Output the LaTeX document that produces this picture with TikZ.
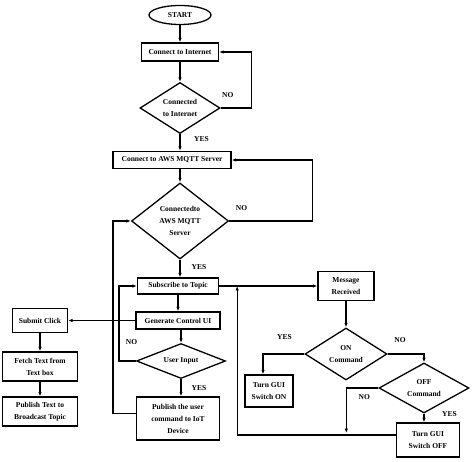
\documentclass[tikz,border=0pt]{standalone}
\usepackage{fontspec}
\setmainfont{Liberation Serif}
\usetikzlibrary{shapes,arrows.meta,positioning}

\begin{document}
\begin{tikzpicture}[x=1pt, y=-1pt, line width=1.3pt, >={Latex[length=4.5pt,width=3.5pt]},
    every node/.style={font=\fontsize{7.5}{12}\selectfont\bfseries},
    process/.style={on grid, draw, rectangle, inner sep=0pt, align=center},
    decision/.style={on grid, draw, diamond, aspect=1.6, inner sep=0pt, align=center},
    lbl/.style={inner sep=1pt}]
    \useasboundingbox (0,0) rectangle (474,462);

    % main column
    \node (start) [on grid, draw, ellipse, inner sep=0pt, minimum width=62pt, minimum height=19pt] at (180,15) {START};
    \node (inet) [process, below=37pt of start, minimum width=77pt, minimum height=18pt] {Connect to Internet};
    \node (dinet) [decision, below=56pt of inet, minimum width=80pt, minimum height=51pt] {Connected\\to Internet};
    \node (aws) [process, below=52pt of dinet, xshift=-8pt, minimum width=118pt, minimum height=17pt] {Connect to AWS MQTT Server};
    \node (dmqtt) [decision, aspect=1.3, below=61pt of aws, xshift=8pt, minimum width=97pt, minimum height=76pt] {Connectedto\\AWS MQTT\\Server};
    \node (sub) [process, below=65pt of dmqtt, xshift=-2pt, minimum width=81pt, minimum height=16pt] {Subscribe to Topic};
    \node (gen) [process, below=34.5pt of sub, minimum width=84pt, minimum height=17pt] {Generate Control UI};
    \node (uin) [decision, aspect=2, below=40.5pt of gen, xshift=3pt, minimum width=89pt, minimum height=35pt] {User Input};
    \node (pub) [process, below=57.5pt of uin, xshift=-3pt, minimum width=83pt, minimum height=43pt] {Publish the user\\command to IoT\\Device};

    % left column
    \node (submit) [process, left=138pt of gen, minimum width=55pt, minimum height=24pt] {Submit Click};
    \node (fetch) [process, below=46pt of submit, minimum width=75pt, minimum height=29pt] {Fetch Text from\\Text box};
    \node (pubtxt) [process, below=45pt of fetch, minimum width=75pt, minimum height=29pt] {Publish Text to\\Broadcast Topic};

    % right side
    \node (msg) [process, right=168pt of sub, minimum width=56pt, minimum height=29pt] {Message\\Received};
    \node (don) [decision, below=68pt of msg, minimum width=82pt, minimum height=52pt] {ON\\Command};
    \node (gon) [process, below left=37pt and 77pt of don, minimum width=48pt, minimum height=32pt] {Turn GUI\\Switch ON};
    \node (doff) [decision, below right=34pt and 78pt of don, minimum width=90pt, minimum height=50pt] {OFF\\Command};
    \node (goff) [process, below=52pt of doff, xshift=4pt, minimum width=63pt, minimum height=34pt] {Turn GUI\\Switch OFF};
    \coordinate (merge) at ([xshift=18pt]sub.east);

    \draw[->] (start) -- (inet);
    \draw[->] (inet) -- (dinet);
    \draw[->] (dinet.east) -- node (no1) [lbl, above=8.5pt, pos=0.23] {NO} ++(31,0) |- (inet.east);
    \draw[->] (dinet.south) -- node (yes1) [lbl, right=12.5pt, pos=0.28] {YES} (dinet.south |- aws.north);
    \draw[->] (dmqtt.north |- aws.south) -- (dmqtt.north);
    \draw[->] (dmqtt.east) -- node (no2) [lbl, above=8.5pt, pos=0.15] {NO} ++(83,0) |- (aws.east);
    \draw[->] (dmqtt.south) -- node (yes2) [lbl, right=10pt, pos=0.42] {YES} (dmqtt.south |- sub.north);
    \draw[->] (sub) -- (gen);
    \draw[->] (uin.north |- gen.south) -- (uin.north);
    \draw[->] (uin.south) -- node (yes3) [lbl, right=9pt, pos=0.5] {YES} (uin.south |- pub.north);
    \draw[->] (uin.west) -- node (no3) [lbl, above=14.5pt, pos=0.25] {NO} ++(-17,0) |- (sub.west);
    \draw[->] ([yshift=5pt]pub.west) -- ++(-23,0) |- (dmqtt.west);

    \draw[->] (gen.west) -- (submit.east);
    \draw[->] (submit) -- (fetch);
    \draw[->] (fetch) -- (pubtxt);

    \draw[->] (sub.east) -- (msg.west);
    \draw[->] (msg) -- (don);
    \draw[->] (don.west) -| node (yes4) [lbl, above=13pt, pos=0.24] {YES} ([xshift=-6pt]gon.north);
    \draw[->] (don.east) -| node (no4) [lbl, above=10pt, pos=0.17] {NO} (doff.north);
    \draw[->] (doff.west) -- node (no5) [lbl, below=4.5pt, pos=0.44] {NO} ++(-32,0) -- ++(0,45);
    \draw[->] (doff.south) -- node (yes5) [lbl, right=16.5pt, pos=0.1] {YES} (doff.south |- goff.north);
    \draw[->] ([yshift=5pt]goff.west) -| (merge);
\end{tikzpicture}
\end{document}
